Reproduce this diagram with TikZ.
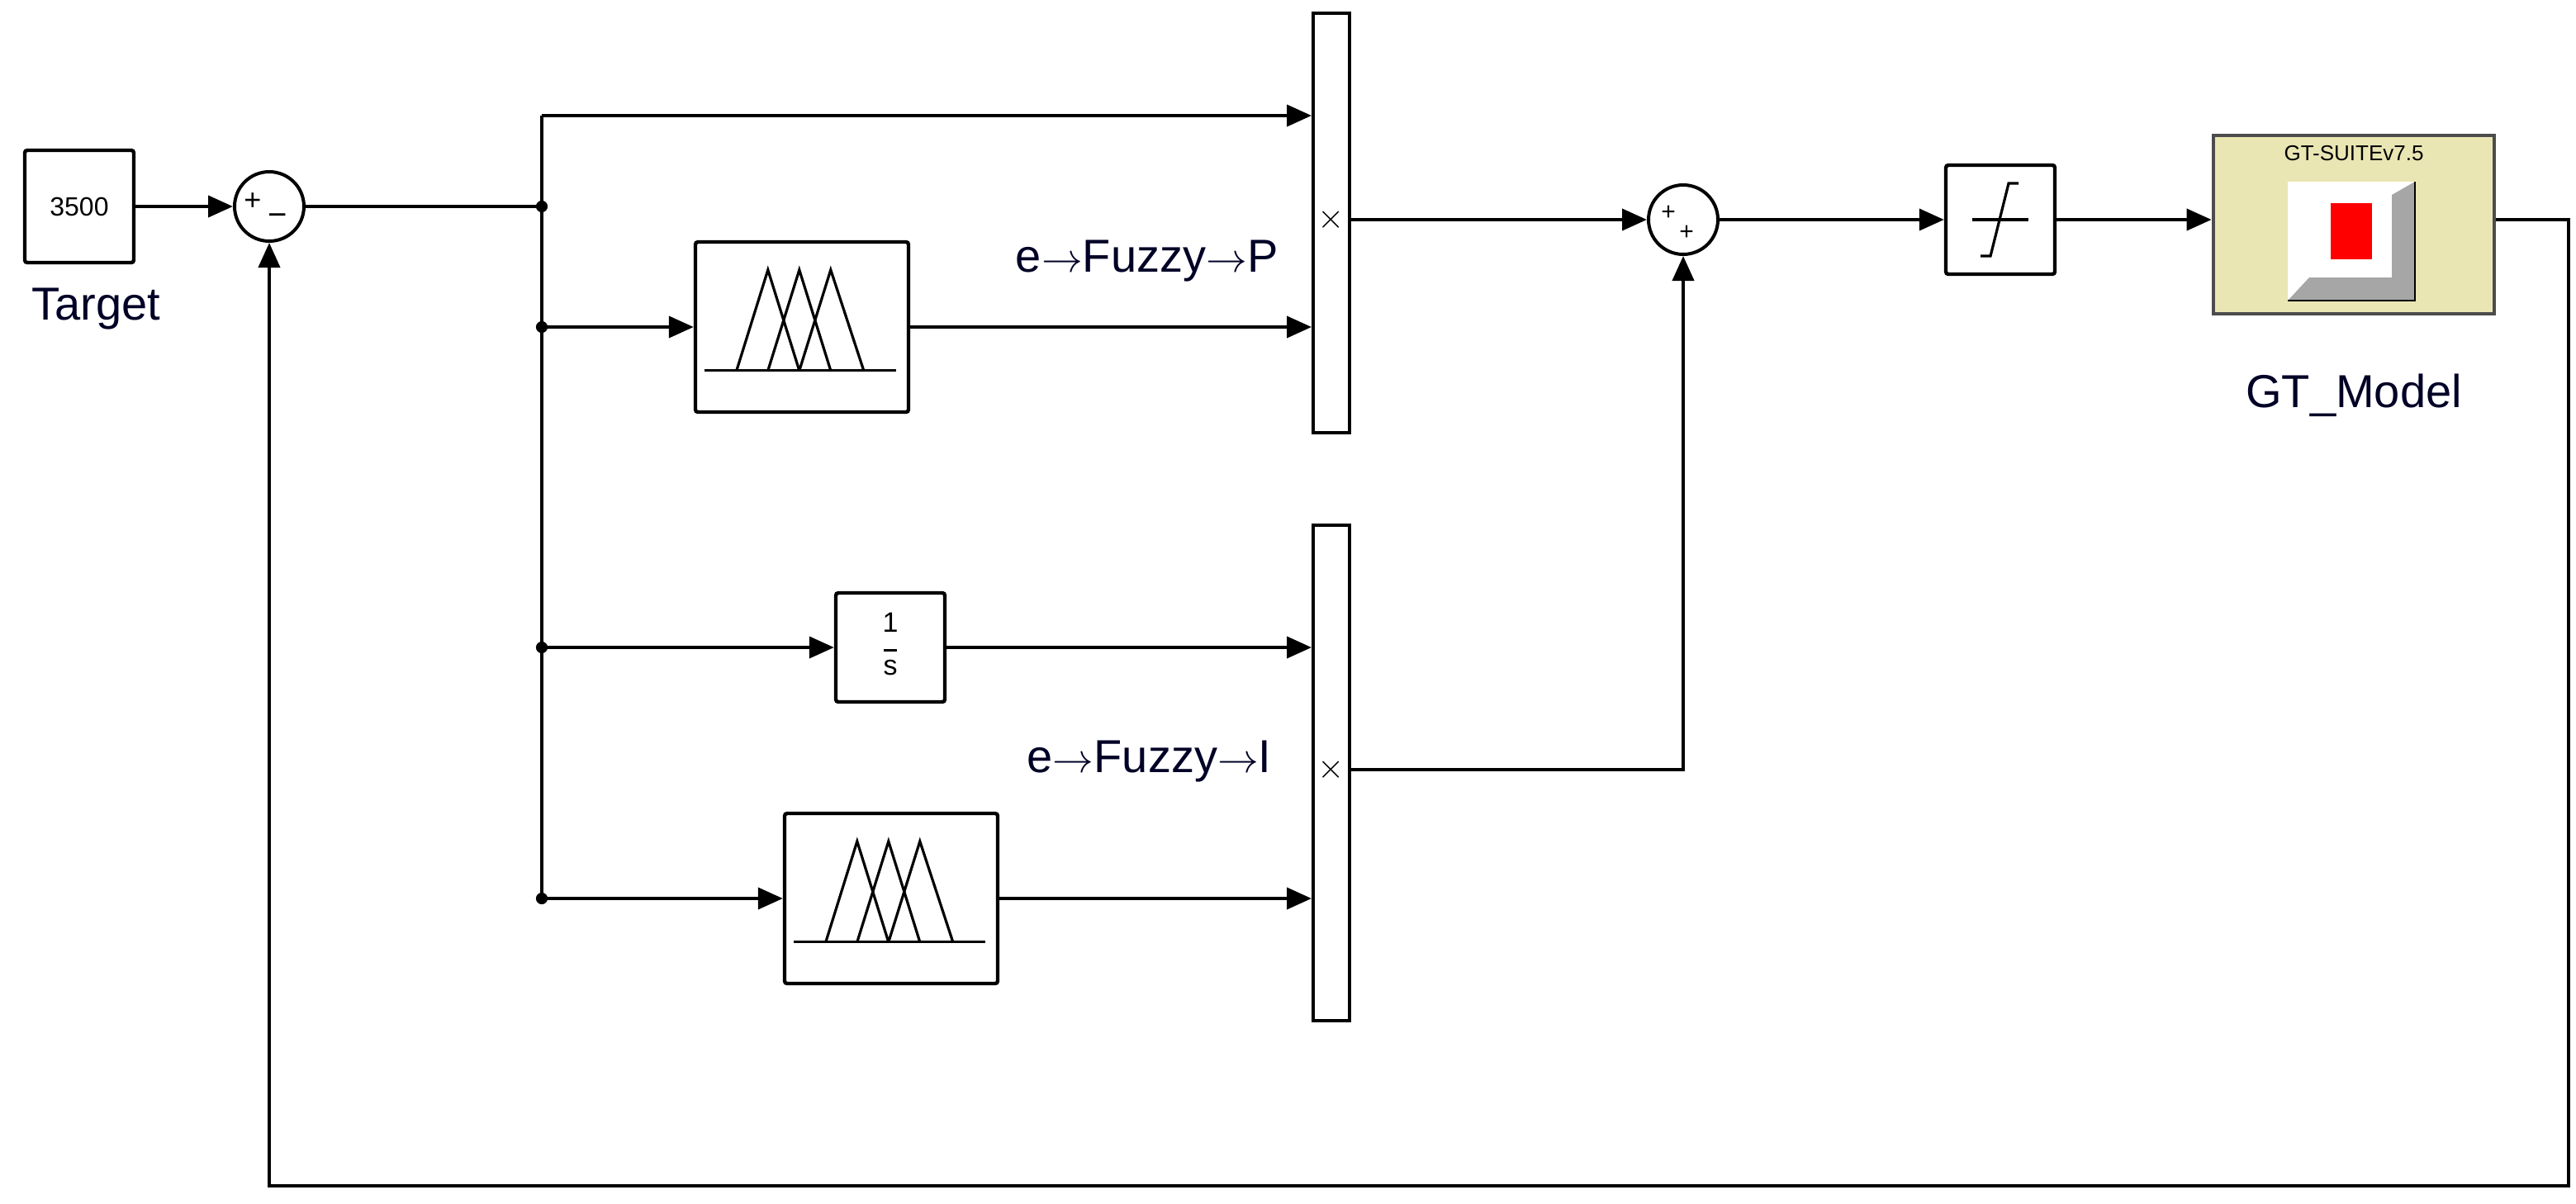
\documentclass[tikz,border=0pt]{standalone}
\usepackage{fontspec}
\setmainfont{Liberation Sans}
\usetikzlibrary{arrows.meta,calc}
\definecolor{gty}{HTML}{EAE6B4}
\begin{document}
\begin{tikzpicture}[x=1pt,y=-1pt,
  line width=2pt,
  blk/.style={draw,line width=2.2pt,fill=white,inner sep=0pt,rounded corners=1.5pt},
  sumc/.style={draw,circle,line width=2pt,minimum size=42pt,inner sep=0pt,fill=white},
  mux/.style={draw,line width=2pt,minimum width=22pt,inner sep=0pt,fill=white},
  sig/.style={-{Triangle[length=15pt,width=13pt]},line width=2pt},
  lbl/.style={font=\fontsize{28}{30}\selectfont,text=black!85!blue},
  dot/.style={circle,fill,inner sep=2.5pt}]
\useasboundingbox (0,0) rectangle (1559.5,728.5);
% blocks
\node[blk,minimum width=66pt,minimum height=68pt,font=\fontsize{16}{16}\selectfont] (tgt) at (48,125) {3500};
\node[lbl,anchor=north] at (58,170) {Target};
\node[sumc] (s1) at (163,125) {};
\node[font=\fontsize{18}{18}\selectfont] at (153,122) {+};
\node[font=\fontsize{20}{20}\selectfont] at (168,133) {\textminus};
\node[mux,minimum height=254pt] (m1) at (806,135) {};
\node[font=\fontsize{20}{20}\selectfont] (x1) at (806,133) {$\times$};
\node[mux,minimum height=300pt] (m2) at (806,468) {};
\node[font=\fontsize{20}{20}\selectfont] (x2) at (806,466) {$\times$};
\node[blk,minimum width=129pt,minimum height=103pt] (f1) at (485.5,198) {};
\node[blk,minimum width=129pt,minimum height=103pt] (f2) at (539.5,544) {};
\foreach \f in {f1,f2}{
 \begin{scope}[shift={(\f.north west)},line width=1.6pt]
  \draw (6.5,79) -- (122.5,79);
  \draw (26,79) -- (45,18) -- (64,79);
  \draw (45,79) -- (64,18) -- (83,79);
  \draw (64,79) -- (83,18) -- (103,79);
 \end{scope}}
\node[blk,minimum width=66pt,minimum height=66pt,font=\fontsize{17}{18}\selectfont] (int) at (539,392) {\begin{tabular}{@{}c@{}}1\\[-6pt]\rule{8pt}{1.5pt}\\[-4pt]s\end{tabular}};
\node[lbl,anchor=east] at (778,158) {e$\rightarrow$Fuzzy$\rightarrow$P};
\node[lbl,anchor=east] at (774,461) {e$\rightarrow$Fuzzy$\rightarrow$I};
\node[sumc] (s2) at (1019,133) {};
\node[font=\fontsize{15}{15}\selectfont] at (1010,129) {+};
\node[font=\fontsize{15}{15}\selectfont] at (1021,141) {+};
\node[blk,minimum width=66pt,minimum height=66pt] (sat) at (1211,133) {};
\begin{scope}[line width=1.6pt]
 \draw (sat.center)++(-17,0) -- ++(34,0);
 \draw (sat.center)++(-12,22) -- ++(6,0) -- (1216,111) -- ++(6,0);
\end{scope}
\node[draw=black!70,line width=2.4pt,fill=gty,minimum width=170pt,minimum height=108pt,inner sep=0pt] (gt) at (1425,136) {};
\node[font=\fontsize{13}{14}\selectfont,anchor=north] at (1425,84) {GT-SUITEv7.5};
\fill[white] (1385,110) rectangle (1462,182);
\fill[gray!70] (1385,182) -- (1398,168) -- (1448,168) -- (1448,118) -- (1462,110) -- (1462,182) -- cycle;
\draw[line width=1.4pt] (1385,182) -- (1462,182) -- (1462,110);
\fill[red] (1411,123) rectangle (1436,157);
\node[lbl,anchor=north] at (1425,222) {GT\_Model};
% connectors
\coordinate (b0) at (328,125);
\coordinate (b1) at (328,198);
\coordinate (b2) at (328,392);
\coordinate (b3) at (328,544);
\coordinate (top) at (328,70);
\coordinate (gto) at (1555,133);
\coordinate (fbr) at (1555,718);
\coordinate (fbl) at (163,718);
\coordinate (j2) at (1019,466);
\draw[sig] (tgt) -- (s1);
\draw (s1) -- (b0);
\draw (top) -- (b3);
\draw[sig] (top) -- (top -| m1.west);
\draw[sig] (b1) -- (f1);
\draw[sig] (f1) -- (f1 -| m1.west);
\draw[sig] (b2) -- (int);
\draw[sig] (int) -- (int -| m2.west);
\draw[sig] (b3) -- (f2);
\draw[sig] (f2) -- (f2 -| m2.west);
\draw[sig] (m1.east |- s2) -- (s2);
\draw[sig] (m2.east |- j2) -- (j2) -- (s2);
\draw[sig] (s2) -- (sat);
\draw[sig] (sat) -- (gt.west |- sat);
\draw[sig] (gt.east |- gto) -- (gto) -- (fbr) -- (fbl) -- (s1);
\foreach \p in {b0,b1,b2,b3} \node[dot] at (\p) {};
\end{tikzpicture}
\end{document}
